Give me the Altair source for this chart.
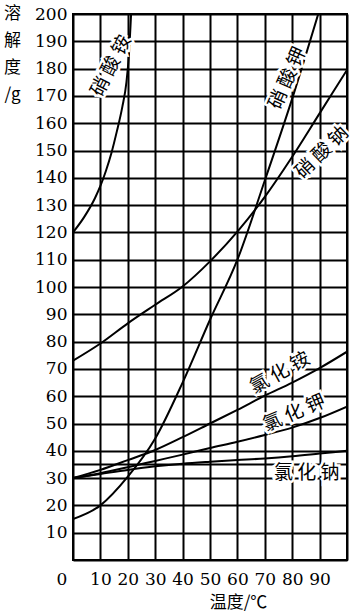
import altair as alt
import pandas as pd

# ---- data ----
temps = [0, 10, 20, 30, 40, 50, 60, 70, 80, 90, 100]
nh4cl = [30, 33, 36.6, 40.3, 45, 50, 55, 60.2, 65, 70.3, 76.3]
kcl = [30, 31.8, 34, 36.3, 38.6, 41, 43.3, 45.8, 48.5, 52, 56.2]
nacl = [30, 31.5, 33, 34.3, 35.3, 36, 36.6, 37.2, 38, 39, 40]
nano3 = [73, 79.3, 86.7, 93.5, 100.2, 109.4, 120.3, 133, 147.7, 163.6, 179.5]

kno3_t = [0, 10, 20, 30, 40, 50, 60, 70, 80, 89.5]
kno3_s = [15, 20, 30.5, 44.5, 65, 88, 110, 139, 169, 200]

nh4no3_t = [0, 4, 8, 10, 12, 14, 16, 18, 19.5, 20.4, 21.2]
nh4no3_s = [120, 125.5, 132.5, 137, 142.5, 149, 157, 166, 175, 185, 200]

label_names = ["硝酸铵", "硝酸钾", "硝酸钠", "氯化铵", "氯化钾", "氯化钠"]
label_t = [13.9, 78.3, 90.8, 75.5, 80.7, 85.3]
label_s = [181, 176.5, 149.3, 68.5, 53.8, 31.9]
label_angle = [297, 294, 316, 331, 337, 0]

extra_grid = [35]

# ---- tables ----
rows = []
for name, vals in [("氯化铵", nh4cl), ("氯化钾", kcl), ("氯化钠", nacl), ("硝酸钠", nano3)]:
    for i, (t, s) in enumerate(zip(temps, vals)):
        rows.append({"series": name, "t": t, "s": s, "i": i})
for i, (t, s) in enumerate(zip(kno3_t, kno3_s)):
    rows.append({"series": "硝酸钾", "t": t, "s": s, "i": i})
for i, (t, s) in enumerate(zip(nh4no3_t, nh4no3_s)):
    rows.append({"series": "硝酸铵", "t": t, "s": s, "i": i})
df = pd.DataFrame(rows)

lab = pd.DataFrame({"name": label_names, "t": label_t, "s": label_s, "a": label_angle})
zero = pd.DataFrame({"t": [0], "s": [0], "txt": ["0"]})
g35 = pd.DataFrame({"s": extra_grid})

xs = alt.Scale(domain=[0, 100], nice=False)
ys = alt.Scale(domain=[0, 200], nice=False)

xaxis = alt.Axis(
    values=list(range(0, 101, 10)), grid=True, gridColor="black", gridWidth=2, gridOpacity=1,
    domain=False, ticks=False, labelOverlap=False,
    labelExpr="datum.value == 0 || datum.value == 100 ? '' : datum.label",
    labelFont="DejaVu Serif", labelFontSize=17, labelColor="black", labelPadding=11,
    labelAngle=0,
    title="温度/℃", titleFont="Noto Sans CJK SC", titleFontSize=17, titleFontWeight="normal",
    titleColor="black", titleX=165, titleY=42, titleBaseline="middle", titleAnchor="start",
    titleAlign="center",
)
yaxis = alt.Axis(
    values=list(range(0, 201, 10)), grid=True, gridColor="black", gridWidth=2, gridOpacity=1,
    domain=False, ticks=False, labelOverlap=False,
    labelExpr="datum.value == 0 ? '' : datum.label",
    labelFont="DejaVu Serif", labelFontSize=17, labelColor="black", labelPadding=6,
    title=["溶", "解", "度", "/g"], titleFont="Noto Sans CJK SC", titleFontSize=17,
    titleFontWeight="normal", titleColor="black", titleAngle=0, titleX=-61, titleY=-9,
    titleBaseline="top", titleAlign="center", titleLineHeight=27, titleAnchor="start",
)

X = lambda f: alt.X(f, scale=xs, axis=xaxis)
Y = lambda f: alt.Y(f, scale=ys, axis=yaxis)

lines = alt.Chart(df).mark_line(color="black", strokeWidth=2, interpolate="monotone", clip=True).encode(
    x=X("t:Q"), y=Y("s:Q"), detail="series:N", order="i:Q",
)

rule35 = alt.Chart(g35).mark_rule(color="black", strokeWidth=2).encode(
    y=Y("s:Q"), x=alt.value(0), x2=alt.value(274)
)

def label_layer(**kw):
    return alt.Chart(lab).transform_calculate(
        spaced="join(split(datum.name, ''), ' ')"
    ).mark_text(
        font="Noto Sans CJK SC", fontSize=19, baseline="middle", align="center", **kw
    ).encode(
        x=X("t:Q"), y=Y("s:Q"), text="spaced:N", angle=alt.Angle("a:Q", scale=None),
    )

halo = label_layer(stroke="white", strokeWidth=5, color="white")
texts = label_layer(color="black")

zero_lab = alt.Chart(zero).mark_text(
    font="DejaVu Serif", fontSize=17, color="black", dx=-11, dy=20, baseline="middle", align="center"
).encode(x=X("t:Q"), y=Y("s:Q"), text="txt:N")

chart = alt.layer(lines, rule35, halo, texts, zero_lab).properties(
    width=274, height=546,
    padding={"left": 73, "top": 14, "right": 5, "bottom": 52},
    autosize=alt.AutoSizeParams(type="none"),
    background="white",
).configure_view(stroke="black", strokeWidth=2)

chart.save("out.html", embed_options={"renderer": "svg", "actions": False})
